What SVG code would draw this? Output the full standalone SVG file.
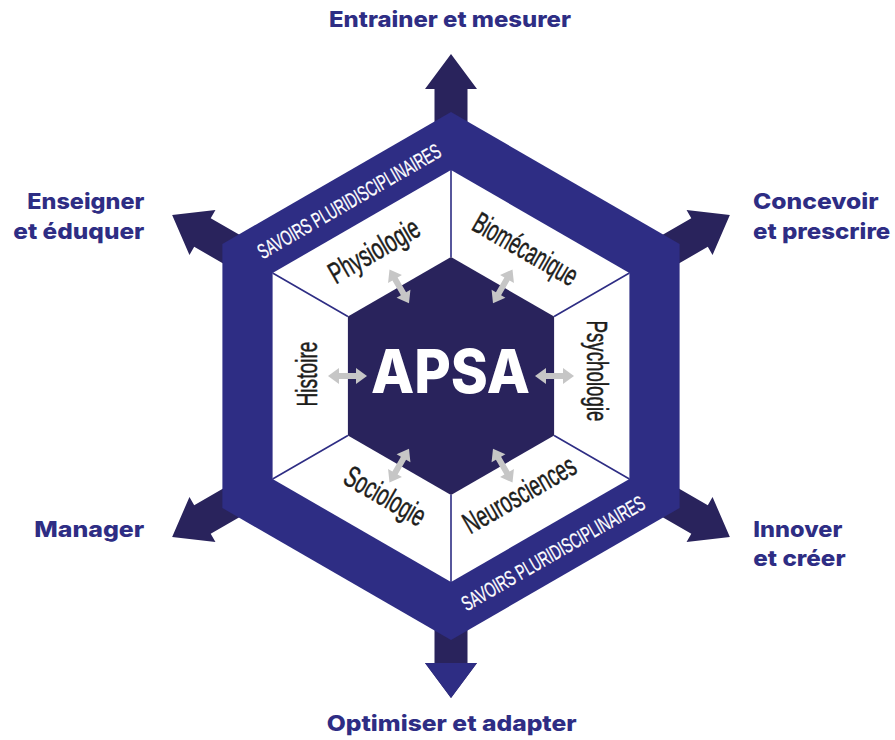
<svg xmlns="http://www.w3.org/2000/svg" width="895" height="740" viewBox="0 0 895 740">
<style>
.out{font-family:Inter,"Liberation Sans",sans-serif;font-weight:800;font-size:22px;fill:#2e2d84}
.sec{font-family:"Liberation Sans",Arial,sans-serif;font-size:30px;fill:#1d1d1b;stroke:#1d1d1b;stroke-width:0.5;text-anchor:middle}
.band{font-family:"Liberation Sans",Arial,sans-serif;font-size:21px;fill:#ffffff;stroke:#ffffff;stroke-width:0.3;text-anchor:middle}
.big{fill:#29235c}
.gray{fill:#c6c6c6}
.div{stroke:#2e2d84;stroke-width:1.6;fill:none}
</style>
<defs>
<path id="bigArrow" d="M -16.5 -200 L -16.5 -287 L -26 -287 L 0 -322 L 26 -287 L 16.5 -287 L 16.5 -200 Z"/>
<path id="dbl" d="M -19.5 0 L -8.5 -8 L -8.5 -3 L 8.5 -3 L 8.5 -8 L 19.5 0 L 8.5 8 L 8.5 3 L -8.5 3 L -8.5 8 Z"/>
</defs>
<rect width="895" height="740" fill="#ffffff"/>
<g id="connectors">
<g transform="translate(451 376)">
<use href="#bigArrow" class="big"/>
<use href="#bigArrow" class="big" transform="rotate(60)"/>
<use href="#bigArrow" class="big" transform="rotate(120)"/>
<use href="#bigArrow" class="big" transform="rotate(180)"/>
<use href="#bigArrow" class="big" transform="rotate(240)"/>
<use href="#bigArrow" class="big" transform="rotate(300)"/>
<path d="M -26 -287 L 0 -322 L 26 -287 Z" fill="#2e2d84" transform="rotate(180)"/>
</g>
</g>
<g id="savoirs">
<polygon points="451,112 679.6,244 679.6,508 451,640 222.4,508 222.4,244" fill="#2e2d84"/>
<polygon points="451,170 629.4,273 629.4,479 451,582 272.6,479 272.6,273" fill="#ffffff"/>
<path class="div" d="M451 170 L451 257 M629.4 273 L554.1 316.5 M629.4 479 L554.1 435.5 M451 582 L451 495 M272.6 479 L347.9 435.5 M272.6 273 L347.9 316.5"/>
<text class="band" textLength="208" lengthAdjust="spacingAndGlyphs" transform="translate(352.8 207.5) rotate(-30)">SAVOIRS PLURIDISCIPLINAIRES</text>
<text class="band" textLength="208" lengthAdjust="spacingAndGlyphs" transform="translate(556.8 559.5) rotate(-30)">SAVOIRS PLURIDISCIPLINAIRES</text>
</g>
<g id="apsa">
<polygon points="451,257 554.1,316.5 554.1,435.5 451,495 347.9,435.5 347.9,316.5" fill="#29235c"/>
<text x="371" y="392.7" textLength="159" lengthAdjust="spacingAndGlyphs" style="font-family:Inter,'Liberation Sans',sans-serif;font-weight:800;font-size:60px;fill:#ffffff">APSA</text>
</g>
<g id="gray-links">
<use href="#dbl" class="gray" transform="translate(347.5 376)"/>
<use href="#dbl" class="gray" transform="translate(554.5 376)"/>
<use href="#dbl" class="gray" transform="translate(399.25 286.4) rotate(60)"/>
<use href="#dbl" class="gray" transform="translate(502.75 286.4) rotate(-60)"/>
<use href="#dbl" class="gray" transform="translate(399.25 465.6) rotate(-60)"/>
<use href="#dbl" class="gray" transform="translate(502.75 465.6) rotate(60)"/>
</g>
<g id="physiologie"><text class="sec" textLength="100" lengthAdjust="spacingAndGlyphs" transform="translate(379 259.4) rotate(-30)">Physiologie</text></g>
<g id="biomecanique"><text class="sec" textLength="116" lengthAdjust="spacingAndGlyphs" transform="translate(520.4 257.9) rotate(30)">Biomécanique</text></g>
<g id="psychologie"><text class="sec" textLength="101" lengthAdjust="spacingAndGlyphs" transform="translate(587 371) rotate(90)">Psychologie</text></g>
<g id="histoire"><text class="sec" textLength="65" lengthAdjust="spacingAndGlyphs" transform="translate(316.5 374) rotate(-90)">Histoire</text></g>
<g id="neurosciences"><text class="sec" textLength="125" lengthAdjust="spacingAndGlyphs" transform="translate(524.5 503.3) rotate(-30)">Neurosciences</text></g>
<g id="sociologie"><text class="sec" textLength="89" lengthAdjust="spacingAndGlyphs" transform="translate(380 504.8) rotate(30)">Sociologie</text></g>
<g id="entrainer"><text class="out" x="329" y="26.7" textLength="242" lengthAdjust="spacingAndGlyphs">Entrainer et mesurer</text></g>
<g id="concevoir"><text class="out" x="753" y="209.3" textLength="125.7" lengthAdjust="spacingAndGlyphs">Concevoir</text><text class="out" x="753" y="239" textLength="137.3" lengthAdjust="spacingAndGlyphs">et prescrire</text></g>
<g id="innover"><text class="out" x="753.3" y="536.7" textLength="89" lengthAdjust="spacingAndGlyphs">Innover</text><text class="out" x="753.3" y="566" textLength="92.3" lengthAdjust="spacingAndGlyphs">et créer</text></g>
<g id="optimiser"><text class="out" x="326.7" y="731" textLength="250" lengthAdjust="spacingAndGlyphs">Optimiser et adapter</text></g>
<g id="manager"><text class="out" x="34.3" y="536.7" textLength="110" lengthAdjust="spacingAndGlyphs">Manager</text></g>
<g id="enseigner"><text class="out" x="27.3" y="209.3" textLength="117" lengthAdjust="spacingAndGlyphs">Enseigner</text><text class="out" x="13.3" y="239" textLength="131" lengthAdjust="spacingAndGlyphs">et éduquer</text></g>
</svg>
